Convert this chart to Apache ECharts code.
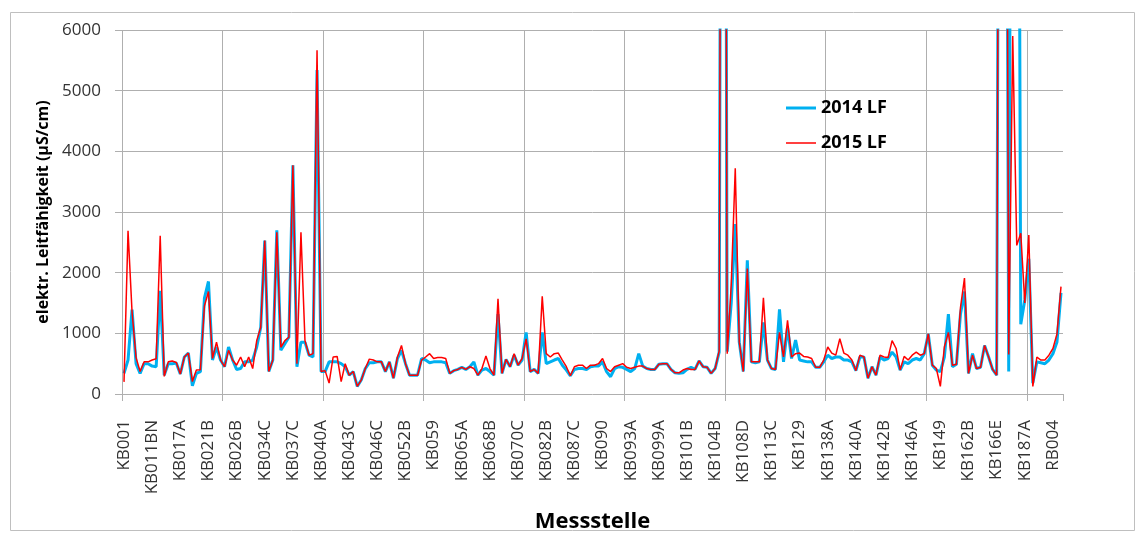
<!DOCTYPE html>
<html>
<head>
<meta charset="utf-8">
<script src="https://cdn.jsdelivr.net/npm/echarts@6/dist/echarts.min.js"></script>
<style>
html,body{margin:0;padding:0;background:#fff;}
#chart{width:1143px;height:538px;}
</style>
</head>
<body>
<div id="chart"></div>
<script>
// Visible station labels (every 7th station along the axis)
const tickLabels = ["KB001","KB011BN","KB017A","KB021B","KB026B","KB034C","KB037C","KB040A","KB043C","KB046C","KB052B","KB059","KB065A","KB068B","KB070C","KB082B","KB087C","KB090","KB093A","KB099A","KB101B","KB104B","KB108D","KB113C","KB129","KB138A","KB140A","KB142B","KB146A","KB149","KB162B","KB166E","KB187A","RB004"];
const stationCount = 234;
const labelStep = 7;
const gridStep = 25;

// 2014 LF (µS/cm)
const lf2014 = [
 340,560,1390,500,340,500,500,460,450,1700,
 310,500,500,510,330,610,675,135,340,370,
 1580,1855,560,775,560,450,775,560,405,420,
 530,530,560,775,1100,2530,370,560,2700,720,
 830,935,3770,450,855,855,640,610,5340,370,
 370,530,530,530,500,450,310,370,125,230,
 420,515,515,530,530,370,530,260,585,720,
 500,310,310,310,585,560,515,530,530,530,
 515,340,385,405,440,405,450,530,310,395,
 420,370,310,1315,340,570,450,640,475,560,
 1015,370,405,340,1015,500,530,560,585,475,
 395,300,405,420,420,405,450,460,460,530,
 370,285,420,450,440,405,370,420,665,460,
 420,405,405,490,500,500,405,350,340,350,
 405,440,405,545,450,440,340,420,690,25000,
 700,1500,2800,855,370,2205,530,515,530,1180,
 560,420,405,1395,530,1100,585,890,560,545,
 530,530,440,440,530,640,585,610,610,560,
 560,530,385,610,610,260,450,310,610,560,
 585,690,610,395,530,500,560,585,560,665,
 990,475,395,370,610,1315,450,490,1315,1690,
 340,665,420,440,800,610,405,310,20000,20000,
 370,20000,20000,1150,1550,2230,180,530,515,500,
 560,665,855,1665
];
// 2015 LF (µS/cm)
const lf2015 = [
 200,2690,1350,600,370,530,530,560,580,2610,
 290,530,545,520,330,610,675,205,395,400,
 1450,1690,585,855,560,450,720,560,475,610,
 450,610,420,880,1100,2530,370,560,2665,770,
 880,935,3770,500,2665,880,640,665,5665,370,
 385,180,610,620,205,500,310,370,125,230,
 420,575,560,530,530,370,530,260,610,800,
 500,310,310,310,560,610,665,585,600,600,
 585,340,385,405,440,405,450,420,310,420,
 625,420,310,1570,340,570,450,665,475,585,
 910,370,405,340,1610,665,610,665,675,560,
 450,300,450,475,475,420,475,475,500,585,
 420,370,450,475,500,440,420,440,460,460,
 420,405,405,490,500,500,405,350,350,395,
 420,405,405,545,450,440,340,420,710,25000,
 665,1800,3720,855,370,2070,530,530,530,1585,
 560,420,405,1015,610,1215,610,665,675,620,
 610,585,440,440,560,775,675,640,910,675,
 640,560,385,640,610,260,450,310,640,610,
 600,880,750,395,620,560,640,690,640,665,
 990,475,420,125,775,1015,475,490,1420,1910,
 340,640,420,440,800,610,405,310,20000,20000,
 650,5900,2450,2650,1500,2620,125,610,560,560,
 640,750,990,1770
];

// Category list: labelled stations at every 7th position, unlabelled stations in between
const categories = [];
for (let i = 0; i < stationCount; i++) {
  const k = Math.floor(i / labelStep), r = i % labelStep;
  categories.push(r === 0 && k < tickLabels.length ? tickLabels[k] : (tickLabels[Math.min(k, tickLabels.length - 1)] + '·' + r));
}

const gridColor = '#AFAFAF';
const chart = echarts.init(document.getElementById('chart'));
chart.setOption({
  animation: false,
  backgroundColor: '#fff',
  textStyle: { fontFamily: 'Open Sans' },
  graphic: [{
    type: 'rect', silent: true,
    shape: { x: 10.5, y: 12.5, width: 1124, height: 518 },
    style: { fill: 'none', stroke: '#BFBFBF', lineWidth: 1 }
  }],
  grid: { left: 122, right: 80, top: 30, bottom: 137, containLabel: false },
  legend: {
    orient: 'vertical', left: 786, top: 98, padding: 0,
    itemWidth: 30, itemHeight: 14, itemGap: 15,
    itemStyle: { borderWidth: 0 },
    textStyle: { fontFamily: 'Open Sans', fontWeight: 'bold', fontSize: 18, color: '#000', lineHeight: 20 },
    data: [
      { name: '2014 LF', icon: 'path://M0 0H30V3H0Z' },
      { name: '2015 LF', icon: 'path://M0 0H30V1.5H0Z' }
    ]
  },
  xAxis: {
    type: 'category', data: categories, boundaryGap: true,
    name: 'Messstelle', nameLocation: 'middle', nameGap: 117,
    nameTextStyle: { fontFamily: 'Open Sans', fontWeight: 'bold', fontSize: 22, color: '#000' },
    axisLine: { show: false },
    axisTick: { show: true, interval: gridStep - 1, length: 7, lineStyle: { color: gridColor, width: 1 } },
    axisLabel: {
      interval: labelStep - 1, rotate: 90, margin: 26,
      fontFamily: 'Open Sans', fontSize: 17, color: '#333333',
      hideOverlap: false
    },
    splitLine: { show: true, interval: gridStep - 1, showMaxLine: false, lineStyle: { color: gridColor, width: 1 } }
  },
  yAxis: {
    type: 'value', min: 0, max: 6000, interval: 1000,
    name: 'elektr. Leitfähigkeit (µS/cm)', nameLocation: 'middle', nameGap: 70, nameRotate: 90,
    nameTextStyle: { fontFamily: 'Open Sans', fontWeight: 'bold', fontSize: 16, color: '#000' },
    axisLine: { show: false },
    axisTick: { show: true, length: 7, lineStyle: { color: gridColor, width: 1 } },
    axisLabel: { margin: 21, fontFamily: 'Open Sans', fontSize: 17, color: '#333333',
      formatter: function (v) { return String(v); } },
    splitLine: { show: true, lineStyle: { color: gridColor, width: 1 } }
  },
  series: [
    { name: '2014 LF', type: 'line', data: lf2014, symbol: 'none', clip: true,
      lineStyle: { color: '#00B0F0', width: 3 }, itemStyle: { color: '#00B0F0' }, z: 2 },
    { name: '2015 LF', type: 'line', data: lf2015, symbol: 'none', clip: true,
      lineStyle: { color: '#FF0000', width: 1.5 }, itemStyle: { color: '#FF0000' }, z: 3 }
  ]
});
</script>
</body>
</html>
